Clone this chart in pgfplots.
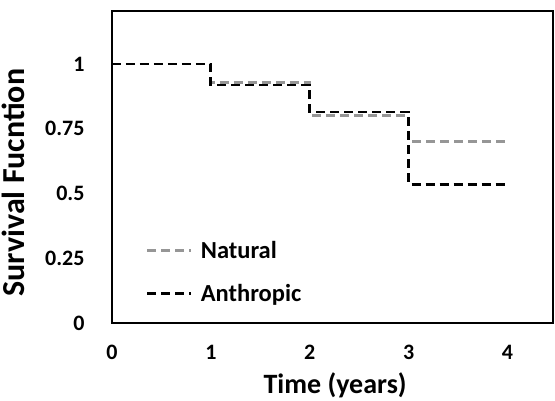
\documentclass[border=0pt]{standalone}
\usepackage{fontspec}
\setmainfont{Carlito}
\usepackage{pgfplots}
\pgfplotsset{compat=1.18}
\definecolor{natgray}{RGB}{150,150,150}
\begin{document}
\begin{tikzpicture}
\useasboundingbox (-112pt,-78pt) rectangle (443pt,323pt);
\begin{axis}[
  at={(0pt,0pt)}, anchor=south west,
  scale only axis,
  width=441pt, height=312pt,
  xmin=0, xmax=4.46, ymin=0, ymax=1.205,
  xtick={0,1,2,3,4}, ytick={0,0.25,0.5,0.75,1},
  yticklabels={0,0.25,0.5,0.75,1},
  major tick length=0pt,
  axis line style={line width=2.8pt},
  /pgf/number format/assume math mode=true,
  ticklabel style={font=\bfseries\fontsize{22}{26}\selectfont},
  xticklabel style={yshift=-19pt},
  yticklabel style={xshift=-24pt},
  xlabel={Time (years)}, ylabel={Survival Fucntion},
  xlabel style={font=\bfseries\fontsize{28}{32}\selectfont, at={(axis description cs:0.506,-0.226)}, anchor=base},
  ylabel style={font=\bfseries\fontsize{32}{36}\selectfont, at={(axis description cs:-0.199,0.45)}, anchor=base},
  legend style={at={(axis description cs:0.07,0.275)}, anchor=north west, draw=none, fill=none,
    font=\bfseries\fontsize{24.5}{29}\selectfont, row sep=20pt},
  legend cell align=left,
  legend image code/.code={\draw[#1] (0pt,0pt) -- (44pt,0pt); \path (50pt,0pt);},
  every axis plot/.append style={line width=2.8pt, dash pattern=on 9pt off 5pt},
]
\addplot[const plot, natgray] coordinates {(0,1) (1,0.93) (2,0.80) (3,0.70) (4,0.70)};
\addlegendentry{Natural}
\addplot[const plot, black] coordinates {(0,1) (1,0.919) (2,0.815) (3,0.535) (4,0.535)};
\addlegendentry{Anthropic}
\end{axis}
\end{tikzpicture}
\end{document}
